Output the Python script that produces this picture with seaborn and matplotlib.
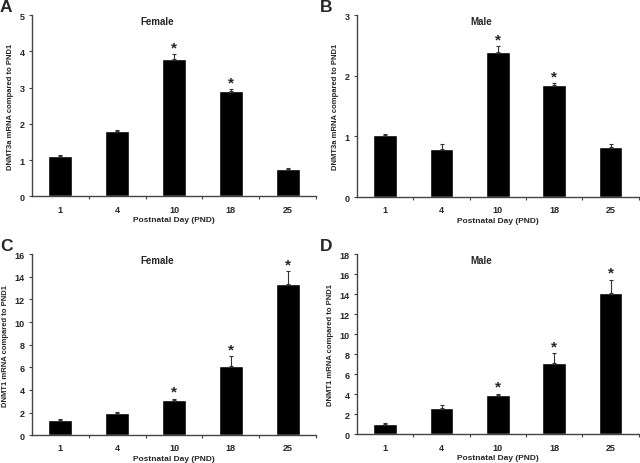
import numpy as np
import pandas as pd
import seaborn as sns
import matplotlib.pyplot as plt

days = ['1', '4', '10', '18', '25']

dnmt3a_female = [1.1, 1.8, 3.8, 2.9, 0.75]
dnmt3a_female_err = [0.05, 0.04, 0.12, 0.05, 0.03]
dnmt3a_male = [1.02, 0.8, 2.4, 1.85, 0.82]
dnmt3a_male_err = [0.02, 0.08, 0.09, 0.03, 0.05]
dnmt1_female = [1.3, 2.0, 3.1, 6.1, 13.4]
dnmt1_female_err = [0.1, 0.08, 0.12, 0.9, 1.1]
dnmt1_male = [1.0, 2.6, 3.9, 7.1, 14.1]
dnmt1_male_err = [0.12, 0.3, 0.15, 1.0, 1.35]

stars_a = [False, False, True, True, False]
stars_b = [False, False, True, True, False]
stars_c = [False, False, True, True, True]
stars_d = [False, False, True, True, True]

sns.set_style('white')
plt.rcParams['font.family'] = ['Liberation Sans', 'DejaVu Sans']
plt.rcParams['font.weight'] = 'bold'

fig = plt.figure(figsize=(6.4, 4.64), dpi=100)

panels = [
    ('A', 'Female', 'DNMT3a mRNA compared to PND1', dnmt3a_female, dnmt3a_female_err, stars_a, 5, 1,
     [0.05, 0.575, 0.444, 0.39]),
    ('B', 'Male', 'DNMT3a mRNA compared to PND1', dnmt3a_male, dnmt3a_male_err, stars_b, 3, 1,
     [0.558, 0.573, 0.44, 0.392]),
    ('C', 'Female', 'DNMT1 mRNA compared to PND1', dnmt1_female, dnmt1_female_err, stars_c, 16, 2,
     [0.05, 0.06, 0.444, 0.39]),
    ('D', 'Male', 'DNMT1 mRNA compared to PND1', dnmt1_male, dnmt1_male_err, stars_d, 18, 2,
     [0.558, 0.062, 0.44, 0.388]),
]

spine_col = '#444444'

for letter, title, ylab, vals, errs, stars, ymax, ystep, rect in panels:
    ax = fig.add_axes(rect)
    df = pd.DataFrame({'day': days, 'value': vals})
    sns.barplot(data=df, x='day', y='value', color='black', width=0.42,
                errorbar=None, saturation=1, ax=ax)
    x = np.arange(len(days))
    ax.errorbar(x, vals, yerr=[np.zeros(len(errs)), errs], fmt='none',
                ecolor='#333333', elinewidth=0.8, capsize=1.2, capthick=0.8)
    for i, s in enumerate(stars):
        if s:
            ax.annotate('*', xy=(i, vals[i] + errs[i]), xytext=(0, 0),
                        textcoords='offset points', ha='center', va='bottom',
                        fontsize=11, fontweight='bold')
    ax.set_xlim(-0.5, 4.5)
    ax.set_ylim(0, ymax)
    ax.set_yticks(np.arange(0, ymax + 0.1, ystep))
    ax.set_xticks(x, days)
    ax.set_xticks(np.arange(0.5, 4.6, 1), minor=True)
    ax.tick_params(axis='x', which='major', length=0, labelsize=6.5, pad=6)
    ax.tick_params(axis='x', which='minor', length=2.5, width=0.8,
                   direction='out', color=spine_col, bottom=True)
    ax.tick_params(axis='y', length=2.5, width=0.8, direction='out',
                   color=spine_col, labelsize=6.5, left=True, pad=3)
    for lab in ax.get_xticklabels() + ax.get_yticklabels():
        lab.set_fontweight('bold')
    for side in ['top', 'right']:
        ax.spines[side].set_visible(False)
    for side in ['left', 'bottom']:
        ax.spines[side].set_color(spine_col)
        ax.spines[side].set_linewidth(1.0)
    ax.set_xlabel('Postnatal Day (PND)', fontsize=6, fontweight='bold', labelpad=1.5)
    ax.set_ylabel(ylab, fontsize=5.5, fontweight='bold', labelpad=4)
    ax.text(0.44, 0.97, title, transform=ax.transAxes, ha='center', va='center',
            fontsize=7, fontweight='bold')
    fig.text(rect[0] - 0.05 if letter in 'AC' else rect[0] - 0.058,
             rect[1] + rect[3] + 0.035, letter, ha='left', va='top',
             fontsize=12.5, fontweight='bold')

plt.savefig('out.png', dpi=100)
